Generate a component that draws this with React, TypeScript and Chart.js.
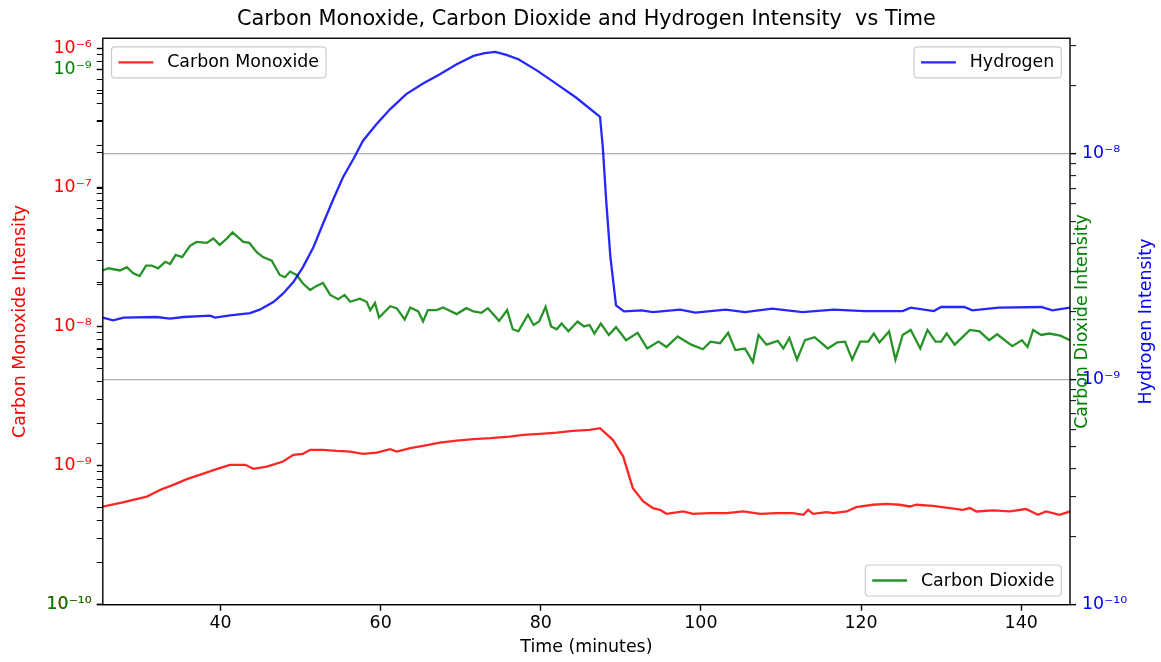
import React, { useEffect, useRef } from 'react';
import { Chart, registerables } from 'chart.js';

Chart.register(...registerables);

// ---------- text ----------
const chartTitle = 'Carbon Monoxide, Carbon Dioxide and Hydrogen Intensity  vs Time';
const xAxisTitle = 'Time (minutes)';
const coAxisTitle = 'Carbon Monoxide Intensity';
const co2AxisTitle = 'Carbon Dioxide Intensity';
const h2AxisTitle = 'Hydrogen Intensity';

// ---------- ticks / ranges ----------
const xTicks = [40, 60, 80, 100, 120, 140];
const xRange = [25.3, 146.1];
const coDecadeExps = [-10, -9, -8, -7, -6];
const co2DecadeExps = [-10, -9];
const h2DecadeExps = [-10, -9, -8];
const coRange = [1e-10, 1.18e-6];
const co2Range = [1e-10, 1.143e-9];
const h2Range = [1e-10, 3.25e-8];

// ---------- data ----------
const coTime = [25.3, 27.8, 30.8, 32.5, 34.1, 35.8, 37.4, 39.5, 41.2, 43.1, 44.1, 45.8, 47.8, 49.1, 50.3, 51.2, 52.8, 54.5, 56.2, 57.8, 59.5, 61.2, 62.0, 63.7, 65.3, 67.4, 69.5, 71.6, 73.7, 76.1, 77.8, 79.9, 82.0, 84.0, 86.1, 87.4, 89.0, 90.3, 91.5, 92.8, 94.0, 94.9, 95.7, 97.8, 99.0, 101.1, 103.2, 105.3, 107.4, 109.4, 111.5, 112.8, 113.4, 114.0, 115.7, 116.5, 118.2, 119.4, 121.5, 123.2, 124.8, 126.1, 126.9, 129.0, 131.1, 132.7, 133.6, 134.4, 136.5, 138.6, 140.6, 142.1, 143.1, 144.8, 146.1];
const coValues = [5.08e-10, 5.43e-10, 5.99e-10, 6.70e-10, 7.27e-10, 7.99e-10, 8.58e-10, 9.43e-10, 1.013e-9, 1.013e-9, 9.48e-10, 9.84e-10, 1.069e-9, 1.195e-9, 1.215e-9, 1.298e-9, 1.298e-9, 1.276e-9, 1.262e-9, 1.215e-9, 1.241e-9, 1.313e-9, 1.262e-9, 1.335e-9, 1.386e-9, 1.464e-9, 1.513e-9, 1.549e-9, 1.574e-9, 1.616e-9, 1.663e-9, 1.690e-9, 1.727e-9, 1.776e-9, 1.806e-9, 1.857e-9, 1.531e-9, 1.161e-9, 6.89e-10, 5.52e-10, 4.95e-10, 4.81e-10, 4.50e-10, 4.68e-10, 4.50e-10, 4.56e-10, 4.56e-10, 4.68e-10, 4.50e-10, 4.56e-10, 4.56e-10, 4.43e-10, 4.81e-10, 4.50e-10, 4.63e-10, 4.56e-10, 4.68e-10, 5.03e-10, 5.23e-10, 5.31e-10, 5.23e-10, 5.08e-10, 5.23e-10, 5.14e-10, 4.95e-10, 4.81e-10, 4.95e-10, 4.68e-10, 4.76e-10, 4.68e-10, 4.87e-10, 4.43e-10, 4.68e-10, 4.43e-10, 4.68e-10];

const h2Time = [25.3, 26.6, 27.9, 32.0, 33.7, 35.4, 38.7, 39.3, 41.2, 43.7, 44.9, 46.6, 47.8, 49.1, 50.3, 51.6, 52.8, 54.1, 55.3, 56.6, 57.8, 59.5, 61.2, 63.2, 65.3, 67.4, 69.5, 71.6, 73.0, 74.3, 75.6, 77.2, 79.6, 82.0, 84.4, 87.4, 87.75, 88.2, 88.7, 89.4, 90.4, 92.6, 94.0, 97.4, 99.3, 103.1, 105.5, 108.9, 112.7, 116.6, 120.4, 125.2, 126.2, 129.1, 130.0, 132.9, 133.9, 137.2, 142.5, 143.9, 146.1];
const h2Values = [1.875e-9, 1.824e-9, 1.875e-9, 1.887e-9, 1.856e-9, 1.887e-9, 1.914e-9, 1.875e-9, 1.920e-9, 1.965e-9, 2.034e-9, 2.198e-9, 2.394e-9, 2.695e-9, 3.14e-9, 3.85e-9, 4.89e-9, 6.30e-9, 7.86e-9, 9.47e-9, 1.142e-8, 1.353e-8, 1.577e-8, 1.838e-8, 2.047e-8, 2.253e-8, 2.494e-8, 2.714e-8, 2.79e-8, 2.827e-8, 2.75e-8, 2.624e-8, 2.330e-8, 2.034e-8, 1.775e-8, 1.458e-8, 1.066e-8, 5.99e-9, 3.48e-9, 2.126e-9, 2.0e-9, 2.02e-9, 1.985e-9, 2.034e-9, 1.973e-9, 2.034e-9, 1.985e-9, 2.055e-9, 1.985e-9, 2.034e-9, 2.005e-9, 2.005e-9, 2.077e-9, 2.005e-9, 2.09e-9, 2.09e-9, 2.02e-9, 2.077e-9, 2.09e-9, 2.02e-9, 2.077e-9];

const co2Time = [25.3, 26.0, 27.45, 28.3, 29.1, 29.9, 30.7, 31.4, 32.2, 33.1, 33.7, 34.4, 35.2, 36.2, 37.0, 38.3, 39.1, 39.9, 40.8, 41.5, 42.85, 43.6, 44.5, 45.3, 46.4, 47.4, 48.05, 48.7, 49.5, 50.3, 51.2, 52.0, 52.8, 53.7, 54.7, 55.5, 56.2, 57.4, 58.25, 58.7, 59.3, 59.8, 61.2, 62.0, 63.0, 63.7, 64.7, 65.3, 65.9, 67.0, 67.8, 69.5, 70.7, 71.6, 72.6, 73.4, 74.8, 75.8, 76.5, 77.2, 78.4, 79.1, 79.8, 80.6, 81.3, 82.0, 82.6, 83.45, 84.6, 85.4, 86.1, 86.7, 87.5, 88.5, 89.4, 90.65, 92.1, 93.3, 94.7, 95.7, 97.1, 98.8, 100.25, 101.2, 102.4, 103.4, 104.3, 105.5, 106.5, 107.2, 108.2, 109.6, 110.3, 111.05, 112.0, 113.0, 114.2, 115.85, 117.05, 118.0, 118.9, 119.9, 120.9, 121.6, 122.3, 123.5, 124.3, 125.2, 126.2, 127.4, 128.3, 129.3, 130.0, 130.7, 131.7, 133.6, 134.8, 136.0, 137.0, 138.9, 140.1, 140.8, 141.5, 142.5, 143.5, 144.9, 146.1];
const co2Values = [4.21e-10, 4.25e-10, 4.21e-10, 4.27e-10, 4.16e-10, 4.11e-10, 4.30e-10, 4.30e-10, 4.25e-10, 4.37e-10, 4.33e-10, 4.50e-10, 4.46e-10, 4.68e-10, 4.76e-10, 4.74e-10, 4.83e-10, 4.70e-10, 4.83e-10, 4.96e-10, 4.76e-10, 4.74e-10, 4.56e-10, 4.46e-10, 4.39e-10, 4.13e-10, 4.09e-10, 4.19e-10, 4.13e-10, 3.98e-10, 3.87e-10, 3.94e-10, 3.99e-10, 3.79e-10, 3.72e-10, 3.79e-10, 3.68e-10, 3.73e-10, 3.68e-10, 3.55e-10, 3.66e-10, 3.44e-10, 3.61e-10, 3.58e-10, 3.41e-10, 3.59e-10, 3.53e-10, 3.38e-10, 3.55e-10, 3.55e-10, 3.59e-10, 3.49e-10, 3.58e-10, 3.53e-10, 3.51e-10, 3.58e-10, 3.39e-10, 3.55e-10, 3.27e-10, 3.24e-10, 3.48e-10, 3.33e-10, 3.38e-10, 3.60e-10, 3.31e-10, 3.27e-10, 3.35e-10, 3.24e-10, 3.38e-10, 3.31e-10, 3.33e-10, 3.21e-10, 3.35e-10, 3.19e-10, 3.30e-10, 3.12e-10, 3.22e-10, 3.01e-10, 3.10e-10, 3.03e-10, 3.17e-10, 3.06e-10, 3.00e-10, 3.10e-10, 3.08e-10, 3.22e-10, 2.99e-10, 3.01e-10, 2.84e-10, 3.19e-10, 3.06e-10, 3.11e-10, 3.01e-10, 3.15e-10, 2.87e-10, 3.12e-10, 3.16e-10, 3.01e-10, 3.09e-10, 3.10e-10, 2.87e-10, 3.10e-10, 3.10e-10, 3.21e-10, 3.09e-10, 3.24e-10, 2.87e-10, 3.19e-10, 3.26e-10, 3.01e-10, 3.26e-10, 3.10e-10, 3.10e-10, 3.21e-10, 3.06e-10, 3.26e-10, 3.24e-10, 3.12e-10, 3.20e-10, 3.04e-10, 3.12e-10, 3.03e-10, 3.26e-10, 3.19e-10, 3.21e-10, 3.18e-10, 3.12e-10];

// ---------- style ----------
const FONT = "'DejaVu Sans', sans-serif";
const FS = 17.4;
const RED = 'rgba(255,0,0,0.85)';
const GREEN = 'rgba(0,128,0,0.85)';
const BLUE = 'rgba(0,0,255,0.85)';
const LINE_W = 2.3;

const SUP: Record<string, string> = { '0': '⁰', '1': '¹', '2': '²', '3': '³', '4': '⁴', '5': '⁵', '6': '⁶', '7': '⁷', '8': '⁸', '9': '⁹', '-': '⁻' };
const sup = (n: number) => String(n).split('').map((c) => SUP[c] || c).join('');

const isDecade = (v: number) => {
  if (!(v > 0)) return false;
  const l = Math.log10(v);
  return Math.abs(l - Math.round(l)) < 1e-6;
};

function makeLogTicks(min: number, max: number) {
  const ticks: { value: number; major: boolean }[] = [];
  const e0 = Math.floor(Math.log10(min) + 1e-9);
  const e1 = Math.ceil(Math.log10(max) - 1e-9);
  for (let e = e0; e <= e1; e++) {
    for (let m = 1; m <= 9; m++) {
      const v = parseFloat((m * Math.pow(10, e)).toPrecision(6));
      if (v >= min * 0.999999 && v <= max * 1.000001) ticks.push({ value: v, major: m === 1 });
    }
  }
  return ticks;
}

const decadeLabel = (exps: number[]) => (value: any) => {
  const v = Number(value);
  if (!isDecade(v)) return '';
  const e = Math.round(Math.log10(v));
  return exps.includes(e) ? '10' + sup(e) : '';
};

const tickW = (ctx: any) => (ctx.tick && isDecade(ctx.tick.value) ? 1.4 : 1.0);

const legendPlacement: Record<string, string> = {
  'Carbon Monoxide': 'upper left',
  Hydrogen: 'upper right',
  'Carbon Dioxide': 'lower right',
};

function roundRectPath(ctx: CanvasRenderingContext2D, x: number, y: number, w: number, h: number, r: number) {
  ctx.beginPath();
  ctx.moveTo(x + r, y);
  ctx.lineTo(x + w - r, y);
  ctx.arcTo(x + w, y, x + w, y + r, r);
  ctx.lineTo(x + w, y + h - r);
  ctx.arcTo(x + w, y + h, x + w - r, y + h, r);
  ctx.lineTo(x + r, y + h);
  ctx.arcTo(x, y + h, x, y + h - r, r);
  ctx.lineTo(x, y + r);
  ctx.arcTo(x, y, x + r, y, r);
  ctx.closePath();
}

// The CO2 axis shares the left band with the CO axis (like a matplotlib twin axis)
const shareLeftPlugin = {
  id: 'shareLeft',
  afterLayout(chart: any) {
    const co = chart.scales.yCO;
    const co2 = chart.scales.yCO2;
    if (co && co2) {
      co2.left = co.left;
      co2.right = co.right;
      co2.width = co.right - co.left;
    }
  },
};

const overlayPlugin = {
  id: 'overlay',
  afterDraw(chart: any) {
    const ctx: CanvasRenderingContext2D = chart.ctx;
    const a = chart.chartArea;
    ctx.save();
    // frame (spines)
    ctx.strokeStyle = '#000';
    ctx.lineWidth = 1.4;
    ctx.strokeRect(a.left, a.top, a.right - a.left, a.bottom - a.top);

    // right-hand axis titles (read bottom to top)
    const midY = (a.top + a.bottom) / 2;
    ctx.font = `${FS}px ${FONT}`;
    ctx.textAlign = 'center';
    ctx.textBaseline = 'middle';
    const rightTitles: [string, string, number][] = [
      [co2AxisTitle, 'green', a.right + 12],
      [h2AxisTitle, 'blue', a.right + 76],
    ];
    for (const [txt, col, x] of rightTitles) {
      ctx.save();
      ctx.translate(x, midY);
      ctx.rotate(-Math.PI / 2);
      ctx.fillStyle = col;
      ctx.fillText(txt, 0, 0);
      ctx.restore();
    }

    // legends
    const pad = 0.4 * FS;
    const handle = 2 * FS;
    const textPad = 0.8 * FS;
    const axPad = 0.5 * FS;
    const boxH = 31;
    chart.data.datasets.forEach((ds: any) => {
      const where = legendPlacement[ds.label];
      if (!where) return;
      ctx.font = `${FS}px ${FONT}`;
      const tw = ctx.measureText(ds.label).width;
      const boxW = pad + handle + textPad + tw + pad;
      const x = where.includes('left') ? a.left + axPad : a.right - axPad - boxW;
      const y = where.includes('upper') ? a.top + axPad : a.bottom - axPad - boxH;
      roundRectPath(ctx, x, y, boxW, boxH, 3.5);
      ctx.fillStyle = 'rgba(255,255,255,0.8)';
      ctx.fill();
      ctx.strokeStyle = '#cccccc';
      ctx.lineWidth = 1.2;
      ctx.stroke();
      const cy = y + boxH / 2;
      ctx.beginPath();
      ctx.moveTo(x + pad, cy);
      ctx.lineTo(x + pad + handle, cy);
      ctx.strokeStyle = ds.borderColor;
      ctx.lineWidth = ds.borderWidth;
      ctx.stroke();
      ctx.fillStyle = '#000';
      ctx.textAlign = 'left';
      ctx.textBaseline = 'middle';
      ctx.fillText(ds.label, x + pad + handle + textPad, cy + 0.5);
    });
    ctx.restore();
  },
};

const pts = (t: number[], v: number[]) => t.map((x, i) => ({ x, y: v[i] }));

export default function App() {
  const ref = useRef<HTMLCanvasElement>(null);

  useEffect(() => {
    document.body.style.margin = '0';
    const canvas = ref.current;
    if (!canvas) return;

    const chart = new Chart(canvas, {
      type: 'line',
      data: {
        datasets: [
          { label: 'Hydrogen', data: pts(h2Time, h2Values), yAxisID: 'yH2', borderColor: BLUE, borderWidth: LINE_W, pointRadius: 0, tension: 0, fill: false, order: 0 },
          { label: 'Carbon Dioxide', data: pts(co2Time, co2Values), yAxisID: 'yCO2', borderColor: GREEN, borderWidth: LINE_W, pointRadius: 0, tension: 0, fill: false, order: 1 },
          { label: 'Carbon Monoxide', data: pts(coTime, coValues), yAxisID: 'yCO', borderColor: RED, borderWidth: LINE_W, pointRadius: 0, tension: 0, fill: false, order: 2 },
        ],
      },
      options: {
        responsive: false,
        animation: false,
        devicePixelRatio: 1,
        layout: { padding: 0 },
        events: [],
        plugins: {
          legend: { display: false },
          tooltip: { enabled: false },
          title: {
            display: true,
            text: chartTitle,
            fullSize: false,
            color: '#000',
            font: { family: FONT, size: 20.8, weight: 'normal' },
            padding: { top: 7.5, bottom: 5.8 },
          },
        },
        scales: {
          x: {
            type: 'linear',
            position: 'bottom',
            min: xRange[0],
            max: xRange[1],
            afterBuildTicks: (s: any) => {
              s.ticks = xTicks.map((v) => ({ value: v }));
            },
            afterFit: (s: any) => {
              s.height = 57.3;
            },
            ticks: { color: '#000', font: { family: FONT, size: FS }, padding: 2, maxRotation: 0, autoSkip: false, callback: (v: any) => String(v) },
            grid: { drawOnChartArea: false, drawTicks: true, tickLength: 6, tickColor: '#000', tickWidth: 1.4 },
            border: { display: false },
            title: { display: true, text: xAxisTitle, color: '#000', font: { family: FONT, size: FS }, padding: { top: 0, bottom: 3.6 } },
          },
          yCO: {
            type: 'logarithmic',
            position: 'left',
            weight: 1,
            min: coRange[0],
            max: coRange[1],
            afterBuildTicks: (s: any) => {
              s.ticks = makeLogTicks(coRange[0], coRange[1]);
            },
            afterFit: (s: any) => {
              s.width = 102.8;
            },
            ticks: { color: 'red', font: { family: FONT, size: FS }, padding: 5, autoSkip: false, callback: decadeLabel(coDecadeExps) },
            grid: { drawOnChartArea: false, drawTicks: true, tickLength: 6, tickColor: '#000', tickWidth: tickW },
            border: { display: false },
            title: { display: true, text: coAxisTitle, color: 'red', font: { family: FONT, size: FS }, padding: { top: 9.6, bottom: 0 } },
          },
          yCO2: {
            type: 'logarithmic',
            position: 'left',
            weight: 0,
            min: co2Range[0],
            max: co2Range[1],
            afterBuildTicks: (s: any) => {
              s.ticks = makeLogTicks(co2Range[0], co2Range[1]);
            },
            afterFit: (s: any) => {
              s.width = 0;
            },
            ticks: { color: 'green', font: { family: FONT, size: FS }, padding: 5, autoSkip: false, callback: decadeLabel(co2DecadeExps) },
            grid: { drawOnChartArea: false, drawTicks: true, tickLength: 6, tickColor: '#000', tickWidth: tickW },
            border: { display: false },
            title: { display: false },
          },
          yH2: {
            type: 'logarithmic',
            position: 'right',
            min: h2Range[0],
            max: h2Range[1],
            afterBuildTicks: (s: any) => {
              s.ticks = makeLogTicks(h2Range[0], h2Range[1]);
            },
            afterFit: (s: any) => {
              s.width = 91;
            },
            ticks: { color: 'blue', font: { family: FONT, size: FS }, padding: 6, autoSkip: false, callback: decadeLabel(h2DecadeExps) },
            grid: {
              drawOnChartArea: true,
              drawTicks: true,
              tickLength: 6,
              color: (ctx: any) => (ctx.tick && isDecade(ctx.tick.value) ? '#b0b0b0' : 'rgba(0,0,0,0)'),
              lineWidth: 1.3,
              tickColor: '#000',
              tickWidth: tickW,
            },
            border: { display: false },
            title: { display: false },
          },
        },
      } as any,
      plugins: [shareLeftPlugin, overlayPlugin],
    });

    return () => chart.destroy();
  }, []);

  return (
    <canvas
      ref={ref}
      width={1161}
      height={662}
      style={{ position: 'fixed', left: 0, top: 0, display: 'block', background: '#fff' }}
    />
  );
}
